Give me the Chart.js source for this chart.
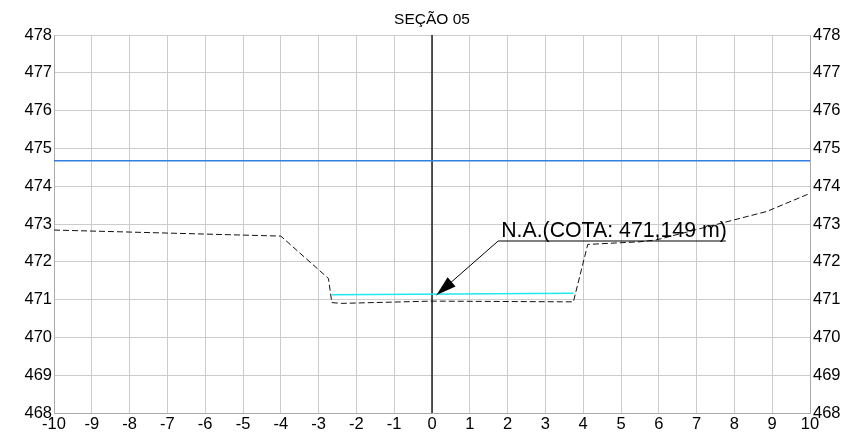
<!DOCTYPE html>
<html>
<head>
<meta charset="utf-8">
<script src="https://cdn.jsdelivr.net/npm/chart.js@4"></script>
<style>
  html, body { margin: 0; padding: 0; background: #fff; }
  #wrap { width: 843px; height: 437px; }
</style>
</head>
<body>
<div id="wrap"><canvas id="secao"></canvas></div>
<script>
// terrain profile (station, elevation)
const terrainX = [-10, -4, -2.74, -2.65, -2.4, 0, 3.74, 4.12, 5.5, 5.94, 8.85, 10];
const terrainY = [472.84, 472.68, 471.56, 470.92, 470.9, 470.96, 470.94, 472.46, 472.53, 472.58, 473.33, 473.81];

// water surface
const waterX = [-2.65, 3.74];
const waterY = [471.13, 471.17];

// reference level (blue)
const refX = [-10, 10];
const refY = [474.67, 474.67];

// axis centre line
const axisX = [0, 0];
const axisY = [468, 478];

const xTicks = [-10, -9, -8, -7, -6, -5, -4, -3, -2, -1, 0, 1, 2, 3, 4, 5, 6, 7, 8, 9, 10];
const yTicks = [468, 469, 470, 471, 472, 473, 474, 475, 476, 477, 478];

const chartTitle = 'SEÇÃO 05';
const noteText = 'N.A.(COTA: 471,149 m)';
const noteTip = [0.12, 471.12];
const noteElbow = [1.75, 472.55];

function pts(xs, ys) {
    return xs.map((x, i) => ({ x: x, y: ys[i] }));
}

const FONT = 'Arial, "Liberation Sans", sans-serif';

const overlay = {
    id: 'overlay',
    afterDatasetsDraw(chart) {
        const ctx = chart.ctx;
        const xs = chart.scales.x;
        const ys = chart.scales.y;
        ctx.save();
        // title
        ctx.fillStyle = '#000';
        ctx.font = '15.5px ' + FONT;
        ctx.textAlign = 'center';
        ctx.textBaseline = 'middle';
        ctx.fillText(chartTitle, (chart.chartArea.left + chart.chartArea.right) / 2, 20);

        // leader
        const tx = xs.getPixelForValue(noteTip[0]);
        const ty = ys.getPixelForValue(noteTip[1]);
        const ex = xs.getPixelForValue(noteElbow[0]);
        const ey = ys.getPixelForValue(noteElbow[1]);
        ctx.font = '21.3px ' + FONT;
        const w = ctx.measureText(noteText).width;
        ctx.strokeStyle = '#000';
        ctx.lineWidth = 1;
        ctx.beginPath();
        ctx.moveTo(ex + w + 2, ey);
        ctx.lineTo(ex, ey);
        ctx.lineTo(tx, ty);
        ctx.stroke();
        // arrow head
        const ang = Math.atan2(ey - ty, ex - tx);
        const len = 20, half = 6;
        ctx.fillStyle = '#000';
        ctx.beginPath();
        ctx.moveTo(tx, ty);
        ctx.lineTo(tx + len * Math.cos(ang) - half * Math.sin(ang), ty + len * Math.sin(ang) + half * Math.cos(ang));
        ctx.lineTo(tx + len * Math.cos(ang) + half * Math.sin(ang), ty + len * Math.sin(ang) - half * Math.cos(ang));
        ctx.closePath();
        ctx.fill();
        // text
        ctx.textAlign = 'left';
        ctx.textBaseline = 'alphabetic';
        ctx.fillText(noteText, ex + 3, ey - 4);
        ctx.restore();
    }
};

new Chart(document.getElementById('secao'), {
    type: 'scatter',
    data: {
        datasets: [
            {
                data: pts(refX, refY),
                showLine: true,
                borderColor: '#2f7fe0',
                borderWidth: 1.5,
                pointRadius: 0
            },
            {
                data: pts(waterX, waterY),
                showLine: true,
                borderColor: '#1ee8f0',
                borderWidth: 1.5,
                pointRadius: 0
            },
            {
                data: pts(axisX, axisY),
                showLine: true,
                borderColor: '#000',
                borderWidth: 1.3,
                pointRadius: 0
            },
            {
                data: pts(terrainX, terrainY),
                showLine: true,
                borderColor: '#111',
                borderWidth: 1,
                borderDash: [6, 3],
                pointRadius: 0
            }
        ]
    },
    options: {
        responsive: true,
        maintainAspectRatio: false,
        animation: false,
        layout: { padding: { top: 35, left: 0, right: 0, bottom: 0 } },
        plugins: {
            legend: { display: false },
            title: { display: false },
            tooltip: { enabled: false }
        },
        scales: {
            x: {
                type: 'linear',
                min: -10,
                max: 10,
                afterBuildTicks: axis => { axis.ticks = xTicks.map(v => ({ value: v })); },
                afterFit: axis => { axis.height = 24; },
                grid: { color: '#cccccc', lineWidth: 1, drawTicks: false },
                border: { color: '#aaaaaa' },
                ticks: { color: '#000', padding: 2, maxRotation: 0, font: { family: FONT, size: 16.5 } }
            },
            y: {
                type: 'linear',
                position: 'left',
                min: 468,
                max: 478,
                afterBuildTicks: axis => { axis.ticks = yTicks.map(v => ({ value: v })); },
                afterFit: axis => { axis.width = 54; },
                grid: { color: '#cccccc', lineWidth: 1, drawTicks: false },
                border: { color: '#aaaaaa' },
                ticks: { color: '#000', padding: 2, font: { family: FONT, size: 16.5 } }
            },
            y2: {
                type: 'linear',
                position: 'right',
                min: 468,
                max: 478,
                afterBuildTicks: axis => { axis.ticks = yTicks.map(v => ({ value: v })); },
                afterFit: axis => { axis.width = 33; },
                grid: { drawOnChartArea: false, drawTicks: false },
                border: { color: '#aaaaaa' },
                ticks: { color: '#000', padding: 3, font: { family: FONT, size: 16.5 } }
            }
        }
    },
    plugins: [overlay]
});
</script>
</body>
</html>
